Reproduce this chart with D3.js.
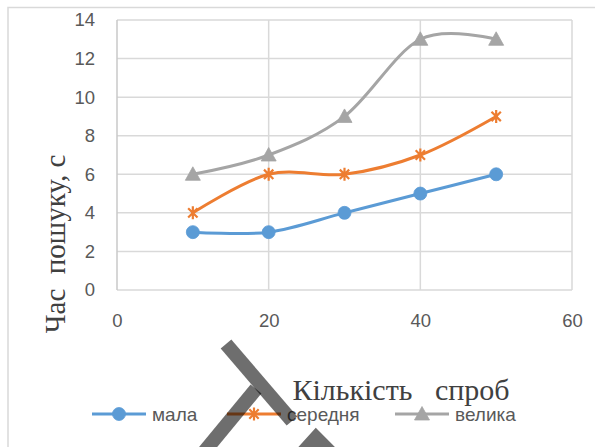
<!DOCTYPE html>
<html>
<head>
<meta charset="utf-8">
<script src="https://cdn.jsdelivr.net/npm/d3@7/dist/d3.min.js"></script>
<style>
  html, body { margin: 0; padding: 0; background: #fff; }
  svg { display: block; }
</style>
</head>
<body>
<svg id="chart" width="595" height="447"></svg>
<script>
// Number of attempts (x) and search time in seconds (y) for each group
const attempts = [10, 20, 30, 40, 50];
const mala = [3, 3, 4, 5, 6];
const serednia = [4, 6, 6, 7, 9];
const velyka = [6, 7, 9, 13, 13];
const seriesNames = ["мала", "середня", "велика"];
const xTicks = [0, 20, 40, 60];
const yTicks = [0, 2, 4, 6, 8, 10, 12, 14];
const xTitle = "Кількість\u00A0\u00A0\u00A0спроб";
const yTitle = "Час\u00A0\u00A0пошуку, с";

const colors = ["#5B9BD5", "#ED7D31", "#A5A5A5"];
const markers = ["circle", "star", "triangle"];
const seriesValues = [mala, serednia, velyka];

const svg = d3.select("#chart");
const plot = { left: 117, right: 572, top: 20, bottom: 290 };

const x = d3.scaleLinear().domain([0, 60]).range([plot.left, plot.right]);
const y = d3.scaleLinear().domain([0, 14]).range([plot.bottom, plot.top]);

const tickFont = "'Liberation Sans', Arial, sans-serif";
const titleFont = "'Liberation Serif', 'Times New Roman', serif";

// Chart frame
svg.append("rect")
  .attr("x", 8).attr("y", 7.5)
  .attr("width", 700).attr("height", 700)
  .attr("fill", "#fff")
  .attr("stroke", "#d9d9d9").attr("stroke-width", 1.5);

// Gridlines
const grid = svg.append("g");
grid.selectAll("line.h").data(yTicks).join("line")
  .attr("class", "h")
  .attr("x1", plot.left).attr("x2", plot.right)
  .attr("y1", d => y(d)).attr("y2", d => y(d))
  .attr("stroke", "#d9d9d9").attr("stroke-width", 1.5);
grid.selectAll("line.v").data(xTicks).join("line")
  .attr("class", "v")
  .attr("y1", plot.top).attr("y2", plot.bottom)
  .attr("x1", d => x(d)).attr("x2", d => x(d))
  .attr("stroke", d => d === 0 ? "#c8c8c8" : "#d9d9d9").attr("stroke-width", 1.5);

// Axes (labels only; lines come from the grid)
const yAxis = svg.append("g")
  .attr("transform", `translate(${plot.left},0)`)
  .call(d3.axisLeft(y).tickValues(yTicks).tickSize(0).tickPadding(22));
const xAxis = svg.append("g")
  .attr("transform", `translate(0,${plot.bottom})`)
  .call(d3.axisBottom(x).tickValues(xTicks).tickSize(0).tickPadding(24));
[yAxis, xAxis].forEach(a => {
  a.select(".domain").remove();
  a.selectAll("text")
    .attr("fill", "#595959")
    .style("font-family", tickFont)
    .style("font-size", "18.5px");
});

// Series lines (smoothed)
const line = d3.line()
  .x((d, i) => x(attempts[i]))
  .y(d => y(d))
  .curve(d3.curveCardinal.tension(0));

const starPath = s => {
  const r = s / 2, d = r * 0.72;
  return `M${-d},${-d}L${d},${d}M${-d},${d}L${d},${-d}M0,${-r}L0,${r}`;
};

function drawMarker(g, type, color, cx, cy) {
  if (type === "circle") {
    g.append("circle").attr("cx", cx).attr("cy", cy).attr("r", 6.5)
      .attr("fill", color).attr("stroke", color).attr("stroke-width", 0.8);
  } else if (type === "star") {
    g.append("path").attr("d", starPath(13))
      .attr("transform", `translate(${cx},${cy})`)
      .attr("fill", "none").attr("stroke", color).attr("stroke-width", 2.2);
  } else {
    g.append("path").attr("d", "M0,-7.5L7.5,6L-7.5,6Z")
      .attr("transform", `translate(${cx},${cy})`)
      .attr("fill", color).attr("stroke", color).attr("stroke-width", 0.8);
  }
}

const seriesG = svg.append("g");
seriesValues.forEach((vals, k) => {
  seriesG.append("path")
    .datum(vals)
    .attr("d", line)
    .attr("fill", "none")
    .attr("stroke", colors[k])
    .attr("stroke-width", 3)
    .attr("stroke-linecap", "round");
});
seriesValues.forEach((vals, k) => {
  vals.forEach((v, i) => drawMarker(seriesG, markers[k], colors[k], x(attempts[i]), y(v)));
});

// Axis titles
svg.append("text")
  .attr("transform", `translate(65,244) rotate(-90)`)
  .attr("text-anchor", "middle")
  .attr("fill", "#404040")
  .style("font-family", titleFont)
  .style("font-size", "29px")
  .text(yTitle);

svg.append("text")
  .attr("x", 401).attr("y", 400)
  .attr("text-anchor", "middle")
  .attr("fill", "#404040")
  .style("font-family", titleFont)
  .style("font-size", "30px")
  .text(xTitle);

// Legend
const legendX = [92, 227, 395];
const legendY = 414;
const legend = svg.append("g");
seriesNames.forEach((name, k) => {
  const lx = legendX[k];
  legend.append("line")
    .attr("x1", lx).attr("x2", lx + 54)
    .attr("y1", legendY).attr("y2", legendY)
    .attr("stroke", colors[k]).attr("stroke-width", 3);
  drawMarker(legend, markers[k], colors[k], lx + 27, legendY);
  legend.append("text")
    .attr("x", lx + 60).attr("y", legendY + 7)
    .attr("fill", "#595959")
    .style("font-family", tickFont)
    .style("font-size", "19px")
    .text(name);
});

// Dark translucent strokes across the lower part
const overlay = svg.append("g")
  .attr("fill", "none")
  .attr("stroke", "#000")
  .attr("stroke-opacity", 0.57)
  .attr("stroke-width", 14)
  .attr("stroke-linecap", "butt")
  .attr("stroke-linejoin", "miter");
overlay.append("path").attr("d", "M226,344L292,421");
overlay.append("path").attr("d", "M256,389L204,452");
overlay.append("path").attr("d", "M296,460L316,438L338,460");
</script>
</body>
</html>
